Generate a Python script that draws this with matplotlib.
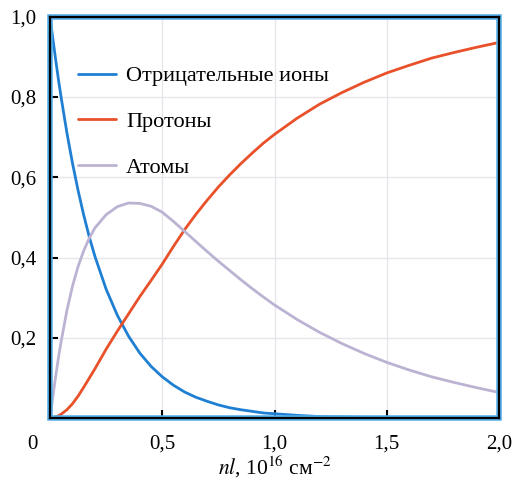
import numpy as np
import matplotlib
matplotlib.use('Agg')
import matplotlib.pyplot as plt
import matplotlib.patches as patches

plt.rcParams['font.family'] = ['Liberation Serif', 'DejaVu Serif']
plt.rcParams['mathtext.fontset'] = 'stix'

# толщина мишени nl, 10^16 см^-2
nl = [0, 0.0125, 0.025, 0.0375, 0.05, 0.075, 0.1, 0.125, 0.15, 0.175, 0.2, 0.25,
      0.3, 0.35, 0.4, 0.45, 0.5, 0.55, 0.6, 0.65, 0.7, 0.75, 0.8, 0.85, 0.9,
      0.95, 1.0, 1.1, 1.2, 1.3, 1.4, 1.5, 1.6, 1.7, 1.8, 1.9, 2.0]

ions = [1.0, 0.945, 0.893, 0.843, 0.797, 0.711, 0.635, 0.567, 0.506, 0.451,
        0.403, 0.321, 0.256, 0.204, 0.162, 0.129, 0.103, 0.082, 0.065, 0.052,
        0.042, 0.033, 0.026, 0.021, 0.017, 0.013, 0.011, 0.007, 0.004, 0.003,
        0.002, 0.001, 0.001, 0.0, 0.0, 0.0, 0.0]

protons = [0.0, 0.001, 0.003, 0.006, 0.01, 0.021, 0.036, 0.055, 0.077, 0.1,
           0.123, 0.172, 0.217, 0.26, 0.303, 0.343, 0.384, 0.428, 0.47, 0.508,
           0.543, 0.576, 0.606, 0.634, 0.66, 0.685, 0.707, 0.747, 0.782, 0.811,
           0.837, 0.86, 0.879, 0.897, 0.911, 0.924, 0.936]

atoms = [0.0, 0.054, 0.104, 0.151, 0.193, 0.268, 0.329, 0.378, 0.417, 0.449,
         0.474, 0.507, 0.527, 0.536, 0.535, 0.528, 0.513, 0.49, 0.465, 0.44,
         0.415, 0.391, 0.368, 0.345, 0.323, 0.302, 0.282, 0.246, 0.214, 0.186,
         0.161, 0.139, 0.120, 0.103, 0.089, 0.076, 0.064]

labels = ['Отрицательные ионы', 'Протоны', 'Атомы']
colors = ['#1f7fd2', '#e8512a', '#bcb3d3']

xticks = [0, 0.5, 1.0, 1.5, 2.0]
xticklabels = ['0', '0,5', '1,0', '1,5', '2,0']
yticks = [0.2, 0.4, 0.6, 0.8, 1.0]
yticklabels = ['0,2', '0,4', '0,6', '0,8', '1,0']

fig = plt.figure(figsize=(5.16, 4.79), dpi=100)
ax = fig.add_axes([0.097, 0.127, 0.870, 0.838])

for ys, lab, c in zip([ions, protons, atoms], labels, colors):
    ax.plot(nl, ys, color=c, lw=2.0, label=lab, solid_capstyle='round',
            solid_joinstyle='round')

ax.set_xlim(0, 2.0)
ax.set_ylim(0, 1.0)

# сетка
for x in [0.5, 1.0, 1.5]:
    ax.axvline(x, color='#e6e6ec', lw=1, zorder=0)
for y in [0.2, 0.4, 0.6, 0.8]:
    ax.axhline(y, color='#e6e6ec', lw=1, zorder=0)

# "0" стоит в углу, левее оси
ax.set_xticks(xticks)
ax.set_xticklabels([''] + xticklabels[1:])
ax.annotate(xticklabels[0], xy=(0, 0), xycoords='axes fraction',
            xytext=(-13, -12), textcoords='offset points',
            ha='center', va='top', fontsize=15)
ax.set_yticks(yticks)
ax.set_yticklabels(yticklabels)
ax.tick_params(direction='in', length=6, width=1.5, color='black',
               labelsize=15, pad=10)
ax.tick_params(axis='x', pad=12)

# рамка: чёрная линия с голубым ореолом
for s in ax.spines.values():
    s.set_linewidth(1.6)
    s.set_color('black')
    s.set_zorder(5)
glow = patches.Rectangle((0, 0), 1, 1, transform=ax.transAxes, fill=False,
                         edgecolor='#55aee8', lw=4.0, clip_on=False, zorder=4)
ax.add_patch(glow)

ax.set_xlabel(r'$nl$, 10$^{16}$ см$^{-2}$', fontsize=15.5, labelpad=0)

leg = ax.legend(loc='upper left', bbox_to_anchor=(0.043, 0.90), frameon=False,
                fontsize=16, handlelength=1.7, handletextpad=0.45,
                labelspacing=1.13, borderaxespad=0)

fig.savefig('out.png', dpi=100)
